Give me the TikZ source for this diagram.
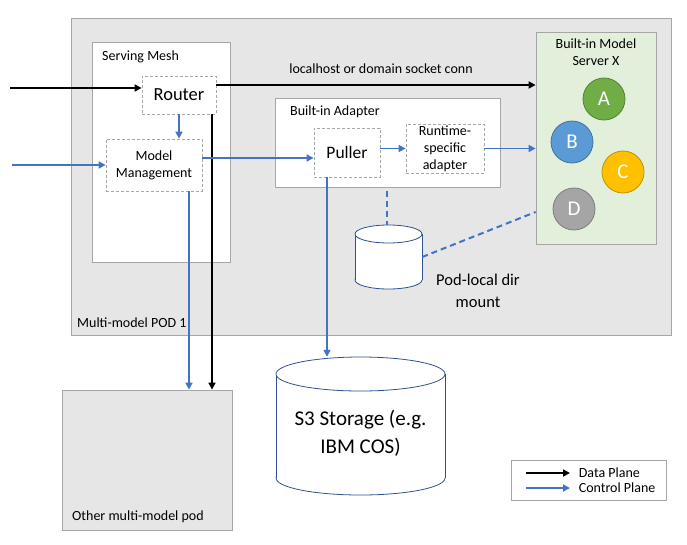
\documentclass[tikz,border=0pt]{standalone}
\usepackage{fontspec}
\setmainfont{Carlito}
\usetikzlibrary{arrows.meta, positioning}
\definecolor{podgray}{RGB}{230,230,230}
\definecolor{edgegray}{RGB}{166,166,166}
\definecolor{ctrlblue}{RGB}{68,114,196}
\definecolor{cylblue}{RGB}{47,82,143}
\definecolor{srvgreen}{RGB}{226,239,218}

% storage drum: centre x, centre y, width, height, cap radius
\newcommand{\drum}[5]{%
  \filldraw[draw=cylblue, fill=white, line width=0.8pt] (#1,#2+#4/2-#5) ellipse [x radius=#3/2, y radius=#5];
  \fill[white] (#1-#3/2,#2-#4/2+#5) rectangle (#1+#3/2,#2+#4/2-#5);
  \draw[cylblue, line width=0.8pt] (#1-#3/2,#2-#4/2+#5) -- (#1-#3/2,#2+#4/2-#5)
    (#1+#3/2,#2-#4/2+#5) -- (#1+#3/2,#2+#4/2-#5);
  \filldraw[draw=cylblue, fill=white, line width=0.8pt] (#1,#2-#4/2+#5) ellipse [x radius=#3/2, y radius=#5];
}

\begin{document}
\begin{tikzpicture}[x=1pt, y=-1pt,
    every node/.style={font=\fontsize{14}{17}\selectfont, inner sep=0pt},
    box/.style={rectangle, draw=edgegray, line width=0.8pt},
    part/.style={rectangle, draw=edgegray, dash pattern=on 3pt off 2pt, line width=0.8pt, fill=white, align=center},
    model/.style={circle, minimum size=42pt, text=white, line width=0.8pt, font=\fontsize{21}{24}\selectfont},
    data/.style={-{Triangle[length=7pt, width=7pt]}, line width=1.6pt, black},
    ctrl/.style={-{Triangle[length=7pt, width=7pt]}, line width=1.6pt, ctrlblue},
    link/.style={line width=2pt, ctrlblue, dash pattern=on 6pt off 4pt}]
    \useasboundingbox (0,0) rectangle (687,544);

    % pod and its parts
    \node[box, fill=podgray, minimum width=600pt, minimum height=317pt] (pod) at (371,176.5) {};
    \node[anchor=west] at (77,323) {Multi-model POD 1};
    \node[box, fill=white, minimum width=138pt, minimum height=220pt] (mesh) at (161,152) {};
    \node[anchor=west] at (102,57) {Serving Mesh};
    \node[part, minimum width=74pt, minimum height=38pt, font=\fontsize{18.5}{22}\selectfont] (router) at (179,95) {Router};
    \node[part, minimum width=96pt, minimum height=52pt] (mgmt) at (154,165) {Model\\Management};
    \node[box, fill=white, minimum width=225pt, minimum height=89pt] (adapter) at (387.5,142.5) {};
    \node[anchor=west] at (290,112) {Built-in Adapter};
    \node[part, minimum width=66pt, minimum height=49pt, font=\fontsize{17.5}{20}\selectfont] (puller) at (347,152.5) {Puller};
    \node[part, minimum width=78pt, minimum height=49pt] (runtime) at (445,148.5) {Runtime-\\specific\\adapter};
    \node[box, fill=srvgreen, minimum width=120pt, minimum height=212pt] (server) at (596,138) {};
    \node[align=center] at (596,52) {Built-in Model\\Server X};
    \node[model, fill={rgb,255:red,112;green,173;blue,71}, draw={rgb,255:red,84;green,130;blue,53}] (mA) at (604,99) {A};
    \node[model, fill={rgb,255:red,91;green,155;blue,213}, draw={rgb,255:red,65;green,113;blue,156}] (mB) at (572,142) {B};
    \node[model, fill={rgb,255:red,255;green,192;blue,0}, draw={rgb,255:red,191;green,144;blue,0}] (mC) at (623,172) {C};
    \node[model, fill={rgb,255:red,165;green,165;blue,165}, draw={rgb,255:red,124;green,124;blue,124}] (mD) at (574,209) {D};
    \drum{388.5}{257}{67}{64}{9}
    \node[minimum width=67pt, minimum height=64pt] (local) at (388.5,257) {};
    \node[align=center, font=\fontsize{16.5}{22}\selectfont] at (478,291) {Pod-local dir\\mount};
    \node[anchor=south] at (381,74) {localhost or domain socket conn};

    % outside the pod
    \node[box, fill=podgray, minimum width=170pt, minimum height=140pt] (other) at (147,460) {};
    \node[anchor=west] at (72,517) {Other multi-model pod};
    \drum{360.5}{426}{169}{138}{17}
    \node[minimum width=169pt, minimum height=138pt] (s3) at (360.5,426) {};
    \node[align=center, font=\fontsize{21}{28}\selectfont] at (360.5,433) {S3 Storage (e.g.\\IBM COS)};

    % legend
    \node[box, fill=white, minimum width=155pt, minimum height=40pt] (legend) at (588.5,480) {};
    \coordinate (dl) at (526,473);
    \coordinate (cl) at (526,488);
    \draw[data] (dl) -- ++(44,0) node[right=8pt, text=black] {Data Plane};
    \draw[ctrl] (cl) -- ++(44,0) node[right=8pt, text=black] {Control Plane};

    % data plane
    \coordinate (inD) at (10,88);
    \coordinate (inC) at (12,165);
    \draw[data] (inD) -- (inD -| router.west);
    \draw[data] ([yshift=10pt]router.east) coordinate (rs) -- (rs -| server.west);
    \draw[data] ([xshift=33pt]router.south) coordinate (rd) -- (rd |- other.north);

    % control plane
    \draw[ctrl] (router.south) -- (router.south |- mgmt.north);
    \draw[ctrl] (inC) -- (inC -| mgmt.west);
    \draw[ctrl] ([yshift=7pt]mgmt.east) coordinate (mp) -- (mp -| puller.west);
    \draw[ctrl] (runtime.west -| puller.east) -- (runtime.west);
    \draw[ctrl] (runtime.east) -- (runtime.east -| server.west);
    \draw[ctrl] ([xshift=35pt]mgmt.south) coordinate (md) -- (md |- other.north);
    \draw[ctrl] ([xshift=-20pt]puller.south) coordinate (pd) -- (pd |- s3.north);
    \draw[link] ([xshift=-0.5pt,yshift=-4pt]adapter.south) coordinate (ad) -- (ad |- local.north);
    \draw[link] (local.east) -- ([yshift=-74pt]server.west);
\end{tikzpicture}
\end{document}
